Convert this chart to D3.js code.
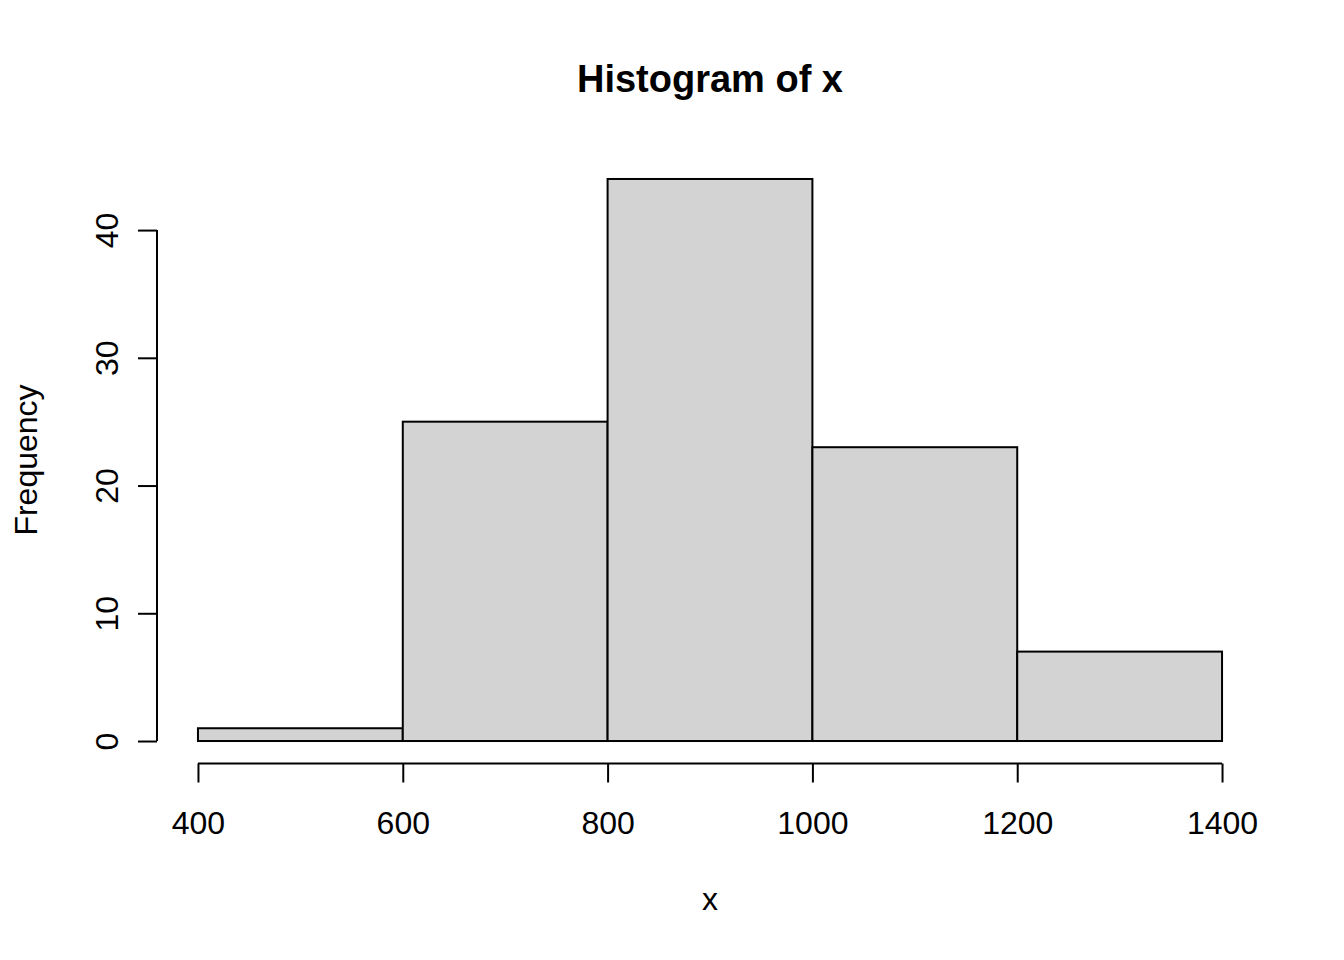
<!DOCTYPE html>
<html><head><meta charset="utf-8">
<script src="https://cdn.jsdelivr.net/npm/d3@7"></script>
<style>body{margin:0;background:#fff}svg{display:block}text{font-family:"Liberation Sans",Arial,sans-serif}</style>
</head><body>
<script>
const binStarts = [400, 600, 800, 1000, 1200];
const binEnds = [600, 800, 1000, 1200, 1400];
const counts = [1, 25, 44, 23, 7];
const xTicks = [400, 600, 800, 1000, 1200, 1400];
const yTicks = [0, 10, 20, 30, 40];
const title = "Histogram of x";
const xLabel = "x";
const yLabel = "Frequency";

const W = 1344, H = 960;
const svg = d3.select("body").append("svg").attr("width", W).attr("height", H);

// plot region (R-style 4% expansion)
const x = d3.scaleLinear().domain([400 - 40, 1400 + 40]).range([157, 1263]);
const y = d3.scaleLinear().domain([-44 * 0.04, 44 * 1.04]).range([763.5, 156.5]);

const lw = 2;
const data = binStarts.map((s, i) => ({s, e: binEnds[i], c: counts[i]}));

svg.append("g").selectAll("rect").data(data).join("rect")
  .attr("x", d => x(d.s)).attr("y", d => y(d.c))
  .attr("width", d => x(d.e) - x(d.s)).attr("height", d => y(0) - y(d.c))
  .attr("fill", "#D3D3D3").attr("stroke", "#000").attr("stroke-width", lw);

// x axis
const xa = svg.append("g").attr("transform", `translate(0,${y.range()[0]})`)
  .call(d3.axisBottom(x).tickValues(xTicks).tickSize(19).tickSizeOuter(0).tickPadding(0).tickFormat(d3.format("d")));
xa.select(".domain").attr("d", `M${x(400)},0H${x(1400)}`).attr("stroke-width", lw);
xa.selectAll(".tick line").attr("stroke-width", lw);
xa.selectAll(".tick text").attr("font-size", 32).attr("fill", "#000").attr("dy", null).attr("y", 70);

// y axis
const ya = svg.append("g").attr("transform", `translate(${x.range()[0]},0)`)
  .call(d3.axisLeft(y).tickValues(yTicks).tickSize(19).tickSizeOuter(0).tickFormat(d3.format("d")));
ya.select(".domain").attr("d", `M0,${y(0)}V${y(40)}`).attr("stroke-width", lw);
ya.selectAll(".tick line").attr("stroke-width", lw);
ya.selectAll(".tick text").attr("font-size", 32).attr("fill", "#000")
  .attr("x", null).attr("dy", null).attr("text-anchor", "middle")
  .attr("transform", "translate(-39,0) rotate(-90)").attr("y", 0);

// title and labels
svg.append("text").attr("x", 710).attr("y", 92).attr("text-anchor", "middle")
  .attr("font-size", 38).attr("font-weight", "bold").text(title);
svg.append("text").attr("x", 710).attr("y", 910).attr("text-anchor", "middle")
  .attr("font-size", 32).text(xLabel);
svg.append("text").attr("transform", "translate(37,460) rotate(-90)").attr("text-anchor", "middle")
  .attr("font-size", 32).text(yLabel);
</script>
</body></html>
